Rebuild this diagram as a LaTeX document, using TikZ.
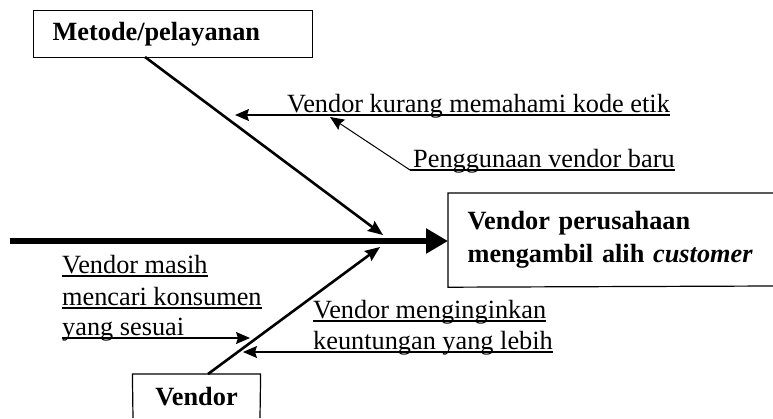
\documentclass[tikz,border=0pt]{standalone}
\usepackage{fontspec}
\setmainfont{Liberation Serif}
\usetikzlibrary{arrows.meta}
\begin{document}
\begin{tikzpicture}[x=1pt,y=-1pt,
  txt/.style={inner sep=0pt,anchor=base west,font=\fontsize{26.3}{31}\selectfont},
  boxnode/.style={line width=1.2pt,font=\fontsize{26.3}{33}\selectfont\bfseries},
  frame/.style={line width=1.2pt},
  bone/.style={line width=2.6pt,-{Stealth[length=15pt,width=12pt,inset=2pt]}},
  spine/.style={line width=6pt,-{Triangle[length=22pt,width=24pt]}},
  cause/.style={line width=1.5pt,-{Stealth[length=14pt,width=12pt,inset=2pt]}},
  subcause/.style={line width=1pt,-{Stealth[length=14pt,width=12pt,inset=2pt]}},
  uline/.style={line width=1.3pt}]
\useasboundingbox (0,0) rectangle (773,418);
\fill[white] (0,0) rectangle (773,418);

% boxes
\node[boxnode,draw,anchor=north west,minimum width=279pt,minimum height=47pt,
      text width=241pt,inner xsep=19pt,inner ysep=0pt,align=left] (metode) at (33,10) {Metode/pelayanan};
\node[boxnode,anchor=north west,minimum height=93pt,
      text width=287pt,inner xsep=19pt,inner ysep=0pt,align=left] (effect) at (448,193)
      {Vendor perusahaan\\mengambil alih \textit{customer}};
\coordinate (eR) at (773,193);
\coordinate (eB) at (773,286);
\draw[frame] (eR) -- (effect.north west) -- (effect.south west) -- (eB);
\node[boxnode,anchor=north,minimum width=127pt,text height=18pt,text depth=13pt,
      inner ysep=13pt] (vendor) at (196.5,374) {Vendor};
\coordinate (vL) at (133,418);
\coordinate (vR) at (260,418);
\draw[frame] (vL) -- (vendor.north west) -- (vendor.north east) -- (vR);

% spine
\coordinate (tail) at (10,241);
\draw[spine] (tail) -- (tail -| effect.west);

% main bones
\coordinate (m1) at (145,57);
\coordinate (h1) at (383,235);
\coordinate (v1) at (208,374);
\coordinate (h2) at (380,247);
\draw[bone] (m1) -- (h1);
\draw[bone] (v1) -- (h2);

% upper causes
\node[txt] (t1) at (287,112) {Vendor kurang memahami kode etik};
\coordinate (a1) at (235,115);
\draw[cause] ([yshift=-3pt]t1.base east) -- (a1);

\node[txt] (t2) at (413,167) {Penggunaan vendor baru};
\coordinate (s2) at (410,170);
\coordinate (a2) at (330,117);
\draw[uline] ([yshift=-3pt]t2.base east) -- (s2);
\draw[subcause] (s2) -- (a2);

% lower left cause
\node[txt] (t3a) at (62,273) {Vendor masih};
\node[txt] (t3b) at (62,305) {mencari konsumen};
\node[txt] (t3c) at (62,335) {yang sesuai};
\draw[uline] ([yshift=-3pt]t3a.base west) -- ([yshift=-3pt]t3a.base east);
\draw[uline] ([yshift=-3pt]t3b.base west) -- ([yshift=-3pt]t3b.base east);
\coordinate (a3) at (250,338);
\draw[cause] ([yshift=-3pt]t3c.base west) -- (a3);

% lower right cause
\node[txt] (t4a) at (313,318) {Vendor menginginkan};
\node[txt] (t4b) at (313,349) {keuntungan yang lebih};
\draw[uline] ([yshift=-3pt]t4a.base west) -- ([yshift=-3pt]t4a.base east);
\coordinate (a4) at (243,352);
\draw[cause] ([yshift=-3pt]t4b.base east) -- (a4);
\end{tikzpicture}
\end{document}
